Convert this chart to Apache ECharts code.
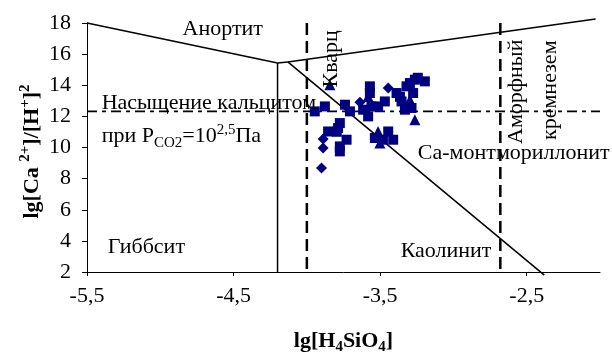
<!DOCTYPE html>
<html>
<head>
<meta charset="utf-8">
<script src="https://cdn.jsdelivr.net/npm/echarts@6/dist/echarts.min.js"></script>
<style>
  html, body { margin: 0; padding: 0; background: #fff; }
  #chart { width: 612px; height: 358px; }
</style>
</head>
<body>
<div id="chart"></div>
<script>
// Axis ticks
const xTickValues = [-5.5, -4.5, -3.5, -2.5];
const xRange = [-5.5, -2];
const yRange = [2, 18];
const yStep = 2;

// Water samples: lg[H4SiO4], lg([Ca2+]/[H+]^2)
const samplesSquare = [
  [-3.946, 12.32], [-3.877, 12.64], [-3.740, 12.75], [-3.706, 12.32],
  [-3.616, 12.43], [-3.582, 12.00], [-3.559, 12.64], [-3.570, 13.93],
  [-3.570, 13.50], [-3.514, 12.64], [-3.468, 12.96], [-3.388, 13.50],
  [-3.354, 12.96], [-3.365, 13.26], [-3.331, 12.43], [-3.297, 14.14],
  [-3.263, 14.36], [-3.195, 14.25], [-3.243, 14.48], [-3.320, 13.93],
  [-3.275, 13.50], [-3.286, 12.54], [-3.775, 11.57], [-3.787, 11.25],
  [-3.796, 11.01], [-3.855, 11.03], [-3.729, 10.50], [-3.775, 10.07],
  [-3.775, 9.75], [-3.536, 10.61], [-3.445, 11.03], [-3.411, 10.50],
  [-3.481, 10.50]
];
const samplesDiamond = [
  [-3.638, 12.90], [-3.445, 13.82], [-3.889, 10.54], [-3.889, 9.97],
  [-3.900, 8.68]
];
const samplesTriangle = [
  [-3.843, 14.03], [-3.582, 13.28], [-3.297, 13.07], [-3.263, 11.79],
  [-3.514, 11.03], [-3.502, 10.29]
];

// Stability field boundaries
const anorthiteGibbsite = [[-5.5, 18], [-4.2, 15.43]];
const gibbsiteKaolinite = [[-4.2, 15.43], [-4.2, 2]];
const anorthiteKaolinite = [[-4.2, 15.43], [-4.13, 15.5]];
const anorthiteMontm = [[-4.13, 15.5], [-2.03, 18.25]];
const kaoliniteMontm = [[-4.13, 15.5], [-2.38, 1.8]];

// Saturation limits
const calciteLevel = 12.32;
const quartzLimit = -4.0;
const amorphousSilicaLimit = -2.68;

const FONT = '"Liberation Serif", "Times New Roman", serif';
const NAVY = '#000080';
const FS = 22;

const chart = echarts.init(document.getElementById('chart'), null, { renderer: 'canvas' });

function boundary(data, extra) {
  return Object.assign({
    type: 'line',
    data: data,
    symbol: 'none',
    clip: false,
    silent: true,
    z: 2,
    lineStyle: { color: '#000', width: 1.5 }
  }, extra || {});
}

function samples(data, symbol, size) {
  return {
    type: 'scatter',
    data: data,
    symbol: symbol,
    symbolSize: size,
    z: 5,
    itemStyle: { color: NAVY, opacity: 1 }
  };
}

const fmt = v => String(v).replace('.', ',');

chart.setOption({
  animation: false,
  backgroundColor: '#fff',
  grid: { left: 87, top: 23, right: 12, bottom: 86 },
  xAxis: {
    type: 'value',
    min: xRange[0], max: xRange[1],
    axisLine: { lineStyle: { color: '#000', width: 1 } },
    axisTick: { show: true, customValues: xTickValues, length: 4, lineStyle: { color: '#000' } },
    axisLabel: { customValues: xTickValues, formatter: fmt, color: '#000', fontFamily: FONT, fontSize: FS, margin: 13 },
    splitLine: { show: false }
  },
  yAxis: {
    type: 'value',
    min: yRange[0], max: yRange[1], interval: yStep,
    axisLine: { show: true, lineStyle: { color: '#000', width: 1 } },
    axisTick: { show: true, length: 5, lineStyle: { color: '#000' } },
    axisLabel: { color: '#000', fontFamily: FONT, fontSize: FS, margin: 16 },
    splitLine: { show: false }
  },
  series: [
    boundary(anorthiteGibbsite),
    boundary(gibbsiteKaolinite),
    boundary(anorthiteKaolinite),
    boundary(anorthiteMontm),
    boundary(kaoliniteMontm),
    boundary([[xRange[0], calciteLevel], [xRange[1], calciteLevel]],
      { lineStyle: { color: '#000', width: 1.8, type: [10, 5, 4, 5] } }),
    boundary([[quartzLimit, yRange[1]], [quartzLimit, yRange[0]]],
      { lineStyle: { color: '#000', width: 2.5, type: [12, 6] } }),
    boundary([[amorphousSilicaLimit, yRange[1]], [amorphousSilicaLimit, yRange[0]]],
      { lineStyle: { color: '#000', width: 2.5, type: [12, 6] } }),
    samples(samplesSquare, 'rect', 10),
    samples(samplesDiamond, 'diamond', 11),
    samples(samplesTriangle, 'triangle', 11)
  ]
});

// Field names and annotations, anchored in data coordinates
const px = (x, y) => chart.convertToPixel({ gridIndex: 0 }, [x, y]);

function label(text, at, opts) {
  const p = px(at[0], at[1]);
  return Object.assign({
    type: 'text',
    x: p[0], y: p[1],
    z: 10,
    silent: true,
    style: Object.assign({
      text: text,
      fill: '#000',
      font: FS + 'px ' + FONT,
      align: 'left',
      verticalAlign: 'middle'
    }, opts && opts.style)
  }, opts && opts.el);
}

const richBase = {
  n: { fontFamily: FONT, fontSize: FS, lineHeight: 28, verticalAlign: 'middle', fill: '#000' },
  sub: { fontFamily: FONT, fontSize: 15, lineHeight: 10, verticalAlign: 'bottom', fill: '#000' },
  sup: { fontFamily: FONT, fontSize: 15, lineHeight: 10, verticalAlign: 'top', fill: '#000' }
};
const richBold = {
  b: { fontFamily: FONT, fontSize: FS, fontWeight: 'bold', lineHeight: 28, verticalAlign: 'middle', fill: '#000' },
  sub: { fontFamily: FONT, fontSize: 15, fontWeight: 'bold', lineHeight: 10, verticalAlign: 'bottom', fill: '#000' },
  sup: { fontFamily: FONT, fontSize: 15, fontWeight: 'bold', lineHeight: 10, verticalAlign: 'top', fill: '#000' }
};

const gridRect = { left: 87, top: 23, right: 600, bottom: 272 };

chart.setOption({
  graphic: [
    label('Анортит', [-4.574, 17.57], { style: { align: 'center' } }),
    label('Кварц', [-3.837, 15.70], { style: { align: 'center' }, el: { rotation: Math.PI / 2 } }),
    label('Аморфный', [-2.574, 13.58], { style: { align: 'center' }, el: { rotation: Math.PI / 2 } }),
    label('кремнезем', [-2.338, 13.68], { style: { align: 'center' }, el: { rotation: Math.PI / 2 } }),
    label('Насыщение кальцитом', [-5.40, 12.86]),
    label('', [-5.40, 10.71], { style: {
      text: '{n|при P}{sub|CO2}{n|=10}{sup|2,5}{n|Па}', rich: richBase
    } }),
    label('Са-монтмориллонит', [-3.243, 9.66]),
    label('Гиббсит', [-5.358, 3.62]),
    label('Каолинит', [-3.36, 3.32]),
    {
      type: 'text',
      x: (gridRect.left + gridRect.right) / 2, y: 341,
      silent: true,
      style: {
        text: '{b|lg[H}{sub|4}{b|SiO}{sub|4}{b|]}', rich: richBold,
        align: 'center', verticalAlign: 'middle'
      }
    },
    {
      type: 'text',
      x: 32, y: (gridRect.top + gridRect.bottom) / 2 + 4,
      rotation: Math.PI / 2,
      silent: true,
      style: {
        text: '{b|lg[Ca }{sup|2+}{b|]/[H}{sup|+}{b|]}{sup|2}', rich: richBold,
        align: 'center', verticalAlign: 'middle'
      }
    }
  ]
});
</script>
</body>
</html>
